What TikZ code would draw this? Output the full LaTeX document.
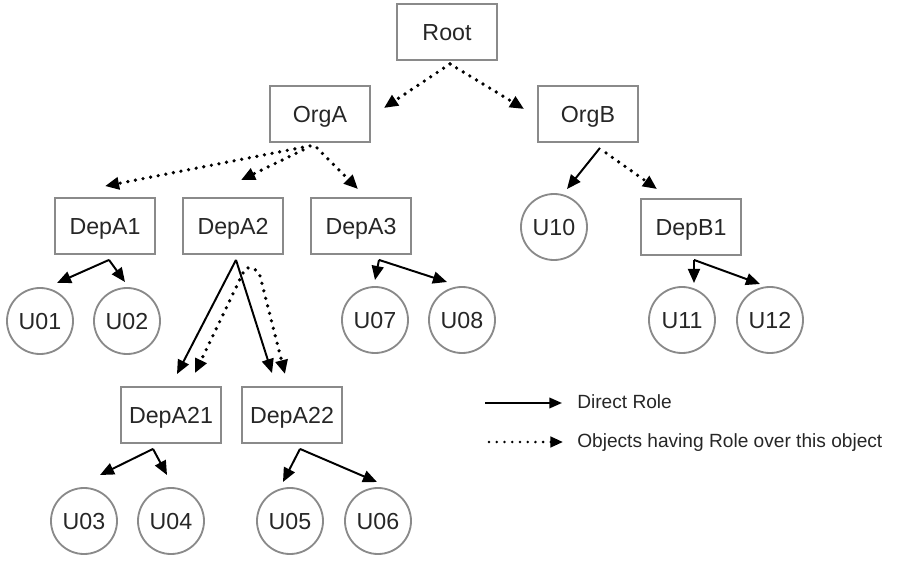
\documentclass[tikz,border=0pt]{standalone}
\usepackage{fontspec}
\setmainfont{Liberation Sans}
\usetikzlibrary{arrows.meta,calc}
\definecolor{boxgray}{HTML}{8A8A8A}
\definecolor{txtgray}{HTML}{262626}

\begin{document}
\begin{tikzpicture}[x=0.025cm,y=-0.025cm,
        every node/.style={text=txtgray,font=\fontsize{16.5}{18}\selectfont,text height=11.8pt,text depth=0pt},
        obj/.style={draw=boxgray,line width=1.3pt,minimum width=2.5cm,minimum height=1.4cm,inner sep=0pt},
        usr/.style={draw=boxgray,line width=1.3pt,circle,minimum size=1.65cm,inner sep=0pt},
        legtext/.style={anchor=base west,inner sep=0pt,font=\fontsize{13.6}{15}\selectfont,text height=,text depth=},
        direct/.style={black,line width=1.4pt,-{Triangle[length=10pt,width=8.5pt]}},
        inherit/.style={black,line width=2.6pt,line cap=round,dash pattern=on 0pt off 5.5pt,-{Triangle[length=10pt,width=8.5pt]}}]
        \useasboundingbox (0,0) rectangle (897,572);
        \node [obj] (Root) at (447,32) {Root};
        \node [obj] (OrgA) at (320,114) {OrgA};
        \node [obj] (OrgB) at (588,114) {OrgB};
        \node [obj] (DepA1) at (105,226) {DepA1};
        \node [obj] (DepA2) at (233,226) {DepA2};
        \node [obj] (DepA3) at (361,226) {DepA3};
        \node [obj] (DepB1) at (691,227) {DepB1};
        \node [obj] (DepA21) at (171,415) {DepA21};
        \node [obj] (DepA22) at (292,415) {DepA22};
        \node [usr] (U01) at (40,321) {U01};
        \node [usr] (U02) at (127,321) {U02};
        \node [usr] (U07) at (375,320) {U07};
        \node [usr] (U08) at (462,320) {U08};
        \node [usr] (U10) at (554,227) {U10};
        \node [usr] (U11) at (682,320) {U11};
        \node [usr] (U12) at (770,320) {U12};
        \node [usr] (U03) at (84,521) {U03};
        \node [usr] (U04) at (171,521) {U04};
        \node [usr] (U05) at (290,521) {U05};
        \node [usr] (U06) at (378,521) {U06};
        \draw [inherit] ($(Root.south)+(3,3)$) -- ($(OrgA.east)+(13,-6)$);
        \draw [inherit] ($(Root.south)+(3,3)$) -- ($(OrgB.west)+(-13,-5)$);
        \draw [inherit] ($(OrgA.south)+(-10,3)$) -- ($(DepA1.north)+(0,-11)$);
        \draw [inherit] ($(OrgA.south)+(-17,7)$) -- ($(DepA2.north)+(8,-17)$);
        \draw [inherit] ($(OrgA.south)+(-3,5)$) -- ($(DepA3.north)+(-3,-8)$);
        \draw [direct] ($(OrgB.south)+(12,5)$) -- ($(U10)+(13,-38)$);
        \draw [inherit] ($(OrgB.south)+(18,10)$) -- ($(DepB1.north)+(-34,-9)$);
        \draw [direct] ($(DepA1.south)+(4,5)$) -- ($(U01)+(17,-38)$);
        \draw [direct] ($(DepA1.south)+(4,5)$) -- ($(U02)+(-2,-39)$);
        \draw [direct] ($(DepA2.south)+(3,5)$) -- ($(DepA21.north)+(6,-12)$);
        \draw [direct] ($(DepA2.south)+(3,5)$) -- ($(DepA22.north)+(-20,-13)$);
        \draw [inherit] ($(DepA2.south)+(10,18)$) -- ($(DepA21.north)+(24,-13)$);
        \draw [inherit,rounded corners=6pt] ($(DepA2.south)+(15,13)$) -- ($(DepA2.south)+(25,13)$) -- ($(DepA22.north)+(-7,-12)$);
        \draw [direct] ($(DepA3.south)+(18,5)$) -- ($(U07)+(0,-40)$);
        \draw [direct] ($(DepA3.south)+(18,5)$) -- ($(U08)+(-15,-38)$);
        \draw [direct] ($(DepB1.south)+(3,4)$) -- ($(U11)+(12,-37)$);
        \draw [direct] ($(DepB1.south)+(3,4)$) -- ($(U12)+(-10,-36)$);
        \draw [direct] ($(DepA21.south)+(-18,5)$) -- ($(U03)+(16,-46)$);
        \draw [direct] ($(DepA21.south)+(-18,5)$) -- ($(U04)+(-4,-46)$);
        \draw [direct] ($(DepA22.south)+(8,5)$) -- ($(U05)+(-7,-39)$);
        \draw [direct] ($(DepA22.south)+(8,5)$) -- ($(U06)+(-1,-39)$);
        \node [legtext] (legdirect) at (577,408) {Direct Role};
        \node [legtext] (leginherit) at (577,447) {Objects having Role over this object};
        \coordinate (legdirect-start) at (485,403);
        \coordinate (leginherit-start) at (489,442);
        \draw [direct,-{Triangle[length=9pt,width=7.5pt]}] (legdirect-start) -- ($(legdirect.base west)+(-15,-5)$);
        \draw [inherit,line width=2pt,-{Triangle[length=9pt,width=7.5pt]}] (leginherit-start) -- ($(leginherit.base west)+(-14,-5)$);
\end{tikzpicture}
\end{document}
